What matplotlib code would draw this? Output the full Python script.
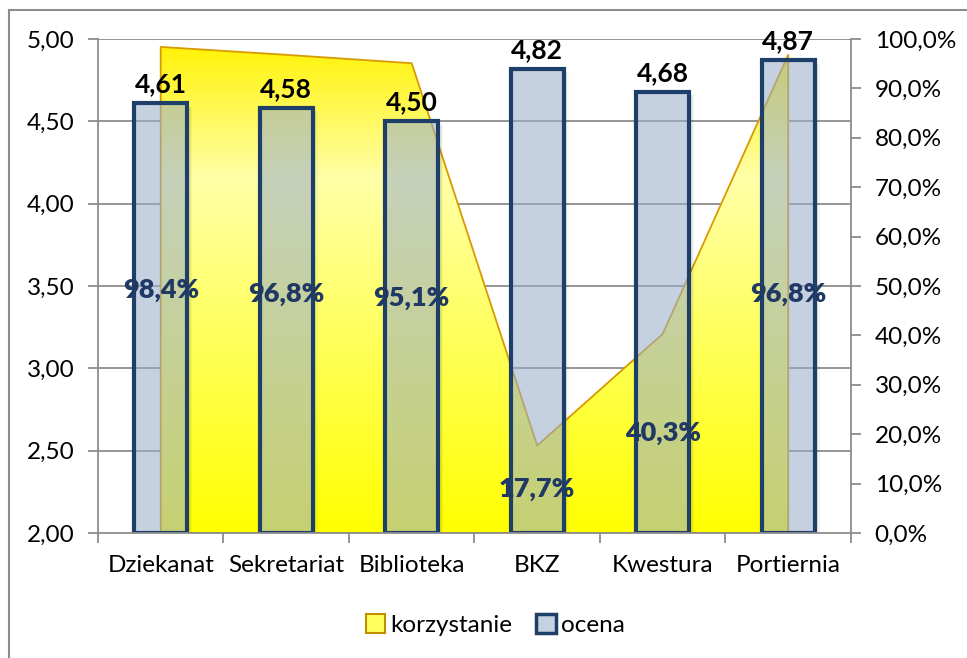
import numpy as np
import matplotlib
matplotlib.use('Agg')
import matplotlib.pyplot as plt
from matplotlib.patches import Rectangle, Patch
from matplotlib.colors import LinearSegmentedColormap
from matplotlib.ticker import FuncFormatter, MultipleLocator

plt.rcParams['font.family'] = ['Lato', 'DejaVu Sans']

# dane
kategorie = ['Dziekanat', 'Sekretariat', 'Biblioteka', 'BKZ', 'Kwestura', 'Portiernia']
ocena = [4.61, 4.58, 4.50, 4.82, 4.68, 4.87]
korzystanie = [98.4, 96.8, 95.1, 17.7, 40.3, 96.8]

Y_MIN, Y_MAX = 2.0, 5.0
SZER = 0.42


def pct_to_y(p):
    return Y_MIN + (Y_MAX - Y_MIN) * np.asarray(p) / 100.0


def y_to_pct(y):
    return (np.asarray(y) - Y_MIN) / (Y_MAX - Y_MIN) * 100.0


fig = plt.figure(figsize=(9.67, 6.58), dpi=100)
ax = fig.add_axes([0.1013, 0.19, 0.7787, 0.7507])

x = np.arange(len(kategorie))
n = len(kategorie)

# siatka
szary = '#8C8C8C'
for g in np.arange(2.5, 5.01, 0.5):
    ax.axhline(g, color=szary, lw=1.3, zorder=0.5)

# obszar "korzystanie" z gradientem
y_area = pct_to_y(korzystanie)
poly = ax.fill_between(x, Y_MIN, y_area, facecolor='none',
                       edgecolor='#D89A00', lw=1.3, zorder=2)
cmap = LinearSegmentedColormap.from_list(
    'zolty', [(0.0, '#FFFF00'), (0.72, '#FFFFA8'), (1.0, '#FFF200')])
grad = np.linspace(0, 1, 256).reshape(-1, 1)
img = ax.imshow(grad, cmap=cmap, origin='lower', aspect='auto',
                extent=[-0.5, n - 0.5, Y_MIN, Y_MAX], zorder=1.5)
img.set_clip_path(poly.get_paths()[0], transform=ax.transData)
ax.set_xlim(-0.5, n - 0.5)
ax.set_ylim(Y_MIN, Y_MAX)

# cień po prawej stronie słupków
for k, a in enumerate([0.16, 0.09, 0.04]):
    ax.bar(x + SZER / 2 + 0.012 + k * 0.012, np.array(ocena) - Y_MIN - 0.02,
           width=0.012, bottom=Y_MIN, color='black', alpha=a, lw=0, zorder=2.5)

# słupki "ocena"
ax.bar(x, np.array(ocena) - Y_MIN, width=SZER, bottom=Y_MIN,
       facecolor=(153/255, 173/255, 201/255, 0.57), edgecolor='#1F3F6B',
       lw=3, zorder=3)

for xi, v in zip(x, ocena):
    ax.annotate(f'{v:.2f}'.replace('.', ','), (xi, v), xytext=(0, 5),
                textcoords='offset points', ha='center', va='bottom',
                fontsize=19, fontweight='bold', color='black', zorder=5)

for xi, p in zip(x, korzystanie):
    ax.text(xi, pct_to_y(p / 2), f'{p:.1f}%'.replace('.', ','),
            ha='center', va='center', fontsize=19.5, fontweight='heavy',
            color='#1F3864', zorder=5)

# osie
for s in ['top', 'right']:
    ax.spines[s].set_visible(False)
for s in ['left', 'bottom']:
    ax.spines[s].set_color(szary)
    ax.spines[s].set_linewidth(1.3)
ax.spines['bottom'].set_zorder(4)

ax.yaxis.set_major_locator(MultipleLocator(0.5))
ax.yaxis.set_major_formatter(FuncFormatter(lambda v, _: f'{v:.2f}'.replace('.', ',')))
ax.set_xticks(x)
ax.set_xticklabels(kategorie)
ax.set_xticks(np.arange(-0.5, n), minor=True)
ax.tick_params(axis='x', which='major', length=0, pad=16, labelsize=17.5)
ax.tick_params(axis='x', which='minor', length=7, width=1.3, color=szary)
ax.tick_params(axis='y', length=7, width=1.3, color=szary, labelsize=17.5, pad=10)

sec = ax.secondary_yaxis('right', functions=(y_to_pct, pct_to_y))
sec.set_yticks(np.arange(0, 101, 10))
sec.yaxis.set_major_formatter(FuncFormatter(lambda v, _: f'{v:.1f}%'.replace('.', ',')))
sec.spines['right'].set_color(szary)
sec.spines['right'].set_linewidth(1.3)
sec.tick_params(axis='y', length=7, width=1.3, color=szary, labelsize=17.5, pad=10)

# legenda
uchwyty = [Patch(facecolor='#FFFF60', edgecolor='#C09000', lw=1.5, label='korzystanie'),
           Patch(facecolor='#C5D0E0', edgecolor='#1F3F6B', lw=2.5, label='ocena')]
fig.legend(handles=uchwyty, loc='center', bbox_to_anchor=(0.512, 0.05), ncol=2,
           frameon=False, fontsize=17.5, handlelength=0.8, handleheight=0.8,
           handletextpad=0.2, columnspacing=1.0)

# ramka wykresu
fig.patches.append(Rectangle((9 / 967, -0.1), 1.2, 1.1 - 10 / 658,
                             transform=fig.transFigure, fill=False,
                             edgecolor=szary, lw=1.5))

fig.savefig('out.png', dpi=100)
